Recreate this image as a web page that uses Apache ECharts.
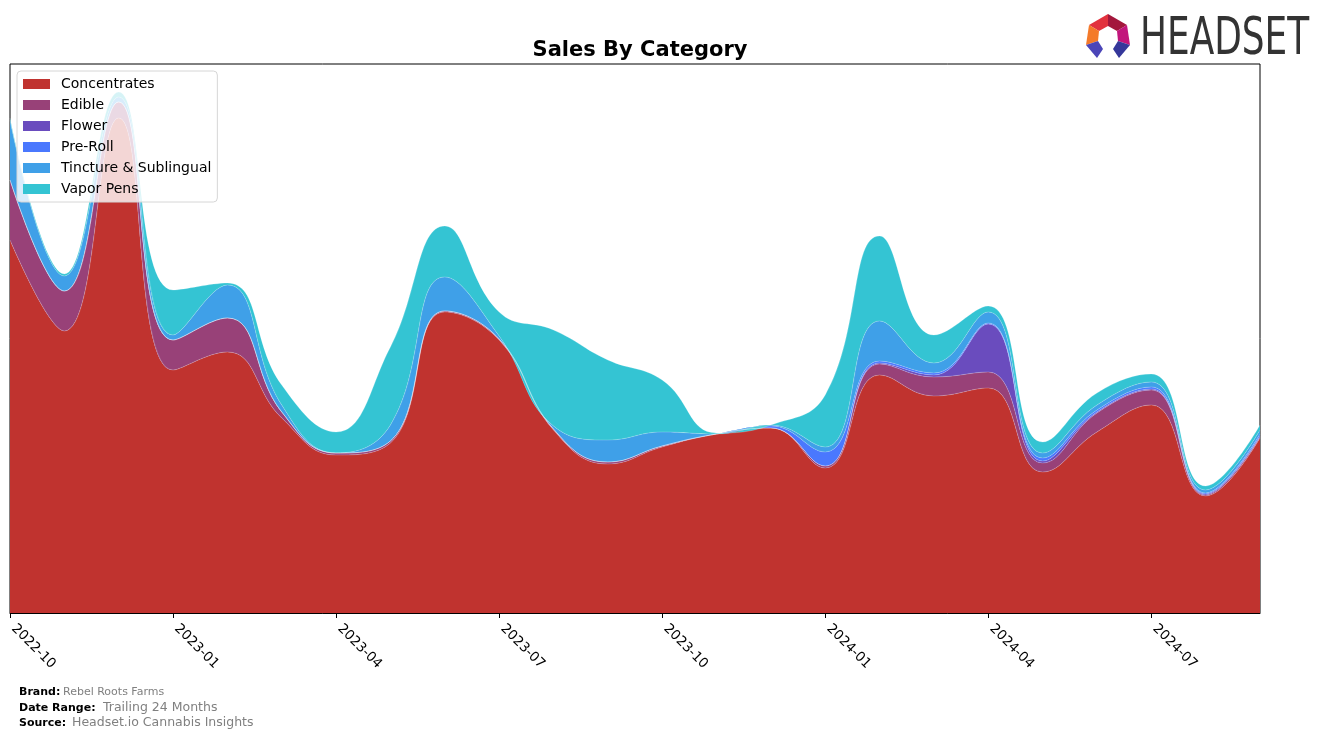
<!DOCTYPE html>
<html>
<head>
<meta charset="utf-8">
<script src="https://cdn.jsdelivr.net/npm/echarts@6/dist/echarts.min.js"></script>
<style>
html,body{margin:0;padding:0;background:#fff;}
#chart{width:1324px;height:739px;}
</style>
</head>
<body>
<div id="chart"></div>
<script>
// Monthly categories (first of each month)
const months = ["2022-10","2022-11","2022-12","2023-01","2023-02","2023-03","2023-04","2023-05","2023-06","2023-07","2023-08","2023-09","2023-10","2023-11","2023-12","2024-01","2024-02","2024-03","2024-04","2024-05","2024-06","2024-07","2024-08","2024-09"];
const tickLabels = ["2022-10","2023-01","2023-04","2023-07","2023-10","2024-01","2024-04","2024-07"];

// Series values (relative sales)
const concentrates = [373,282,495,243,261,195,158,170,301,273,183,149,166,179,185,145,238,217,225,141,181,208,117,175];
const edible       = [60,40,16,30,34,6,2,2,1,1,1,2,1,0,0,2,11,19,16,9,19,15,1,1];
const flower       = [0,0,0,0,0,0,0,0,0,0,0,0,0,0,0,0,1,2,48,2,1,1,1,1];
const preRoll      = [0,0,0,0,0,0,0,0,0,0,0,0,0,0,2,14,2,2,1,3,2,2,1,2];
const tincture     = [60,15,5,5,33,7,0,16,34,3,3,22,14,0,1,5,40,10,11,5,5,5,3,4];
const vaporPens    = [2,2,5,45,2,20,21,78,51,24,96,80,52,1,0,52,85,28,6,11,12,8,4,5];

const seriesDefs = [
  {name:"Concentrates", data:concentrates, color:"#c0332f"},
  {name:"Edible", data:edible, color:"#984178"},
  {name:"Flower", data:flower, color:"#6a4cbe"},
  {name:"Pre-Roll", data:preRoll, color:"#4a78fe"},
  {name:"Tincture & Sublingual", data:tincture, color:"#3fa0e8"},
  {name:"Vapor Pens", data:vaporPens, color:"#34c4d3"}
];

const chart = echarts.init(document.getElementById('chart'), null, {renderer:'canvas'});
const FONT = "DejaVu Sans";

const option = {
  animation:false,
  backgroundColor:"#ffffff",
  textStyle:{fontFamily:FONT},
  title:{
    text:"Sales By Category",
    left:635, top:35, textAlign:"center",
    textStyle:{fontFamily:FONT, fontWeight:"bold", fontSize:21, color:"#000"}
  },
  legend:{
    orient:"vertical", left:17, top:71,
    padding:[6,6,6,6],
    itemGap:7, itemWidth:27, itemHeight:10,
    icon:"rect",
    backgroundColor:"rgba(255,255,255,0.8)",
    borderColor:"#d6d6d6", borderWidth:1, borderRadius:4,
    textStyle:{fontFamily:FONT, fontSize:14, color:"#000", lineHeight:14, padding:[0,0,0,6]},
    data:seriesDefs.map(s=>s.name)
  },
  grid:{left:10, right:64, top:64, bottom:126, show:true, borderColor:"#000", borderWidth:1, containLabel:false},
  xAxis:{
    type:"category", data:months, boundaryGap:false,
    axisLine:{show:true, lineStyle:{color:"#000", width:1}},
    axisTick:{show:true, interval:2, length:5, lineStyle:{color:"#000"}},
    axisLabel:{
      interval:2, rotate:-45, margin:10, padding:[0,0,0,5],
      fontFamily:FONT, fontSize:13.5, color:"#000",
      formatter:(v)=> tickLabels.indexOf(v)>=0 ? v : ""
    },
    splitLine:{show:false}
  },
  yAxis:{
    type:"value", min:0, max:549,
    axisLine:{show:false}, axisTick:{show:false}, axisLabel:{show:false}, splitLine:{show:false}
  },
  series: seriesDefs.map(s=>({
    name:s.name, type:"line", stack:"total", data:s.data,
    smooth:0.45, symbol:"none",
    lineStyle:{width:0.7, color:"rgba(255,255,255,0.3)"},
    itemStyle:{color:s.color},
    areaStyle:{color:s.color, opacity:1}
  })),
  graphic:[
    // footer
    {type:"text", left:19, top:687, style:{text:"Brand:", font:"bold 11px DejaVu Sans", fill:"#000"}},
    {type:"text", left:63, top:687, style:{text:"Rebel Roots Farms", font:"11px DejaVu Sans", fill:"#808080"}},
    {type:"text", left:19, top:703, style:{text:"Date Range:", font:"bold 11px DejaVu Sans", fill:"#000"}},
    {type:"text", left:103, top:701, style:{text:"Trailing 24 Months", font:"12.5px DejaVu Sans", fill:"#808080"}},
    {type:"text", left:19, top:718, style:{text:"Source:", font:"bold 11px DejaVu Sans", fill:"#000"}},
    {type:"text", left:72, top:716, style:{text:"Headset.io Cannabis Insights", font:"12.5px DejaVu Sans", fill:"#808080"}},
    // logo text
    {type:"text", x:1140, y:40, scaleX:0.69, style:{text:"HEADSET", font:"52px DejaVu Sans", fill:"#333333", textVerticalAlign:"middle"}},
    // logo icon
    {type:"polygon", shape:{points:[[1108,14],[1089,25],[1099,31],[1108,26]]}, style:{fill:"#e2323e"}},
    {type:"polygon", shape:{points:[[1108,14],[1127,25],[1117,31],[1108,26]]}, style:{fill:"#a3173c"}},
    {type:"polygon", shape:{points:[[1089,25],[1086,45],[1098,41],[1099,31]]}, style:{fill:"#f47a2a"}},
    {type:"polygon", shape:{points:[[1127,25],[1130,45],[1118,41],[1117,31]]}, style:{fill:"#c2157c"}},
    {type:"polygon", shape:{points:[[1086,45],[1098,41],[1103,49],[1097,58]]}, style:{fill:"#4b45b8"}},
    {type:"polygon", shape:{points:[[1130,45],[1118,41],[1113,49],[1119,58]]}, style:{fill:"#35379a"}}
  ]
};
chart.setOption(option);
</script>
</body>
</html>
